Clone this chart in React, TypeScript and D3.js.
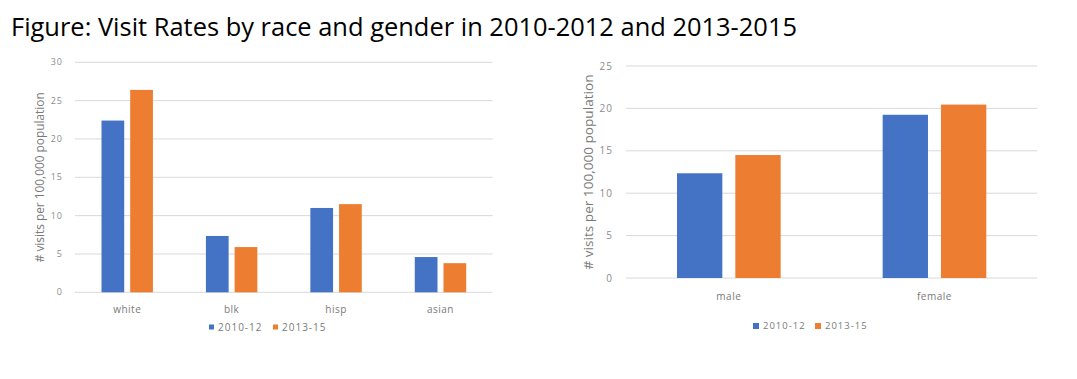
import React from "react";
import * as d3 from "d3";

const seriesNames = ["2010-12", "2013-15"];
const colors = ["#4472C4", "#ED7D31"];

const raceCategories = ["white", "blk", "hisp", "asian"];
const race2010 = [22.4, 7.35, 11.0, 4.6];
const race2013 = [26.4, 5.9, 11.5, 3.8];
const raceTicks = [0, 5, 10, 15, 20, 25, 30];

const genderCategories = ["male", "female"];
const gender2010 = [12.35, 19.25];
const gender2013 = [14.5, 20.45];
const genderTicks = [0, 5, 10, 15, 20, 25];

const title = "Figure: Visit Rates by race and gender in 2010-2012 and 2013-2015";
const yTitle = "# visits per 100,000 population";

type PanelProps = {
  categories: string[];
  series: number[][];
  ticks: number[];
  x0: number; x1: number; y0: number; y1: number;
  groupPad: number; barGap: number;
  tickRight: number; tickFont: number;
  yTitleX: number; yTitleFont: number; yTitleLen: number;
  catY: number; catFont: number;
  legendY: number; legendX: number; legendFont: number; legendSq: number; legendSpacing: number;
};

function Panel(p: PanelProps) {
  const yMax = p.ticks[p.ticks.length - 1];
  const y = d3.scaleLinear().domain([0, yMax]).range([p.y1, p.y0]);
  const xb = d3.scaleBand().domain(p.categories).range([p.x0, p.x1]).paddingInner(0).paddingOuter(0);
  const bw = xb.bandwidth();
  const groupW = bw - 2 * p.groupPad;
  const barW = (groupW - p.barGap) / 2;
  const gray = "#8c8c8c";
  return (
    <g>
      {p.ticks.map((t) => (
        <g key={t}>
          <line x1={p.x0} x2={p.x1} y1={y(t)} y2={y(t)} stroke="#d9d9d9" strokeWidth={1} />
          <text x={p.tickRight} y={y(t)} dy="0.35em" textAnchor="end" fontSize={p.tickFont} fill={gray} letterSpacing={1}>{t}</text>
        </g>
      ))}
      {p.categories.map((c, i) => (
        <g key={c}>
          {p.series.map((s, k) => (
            <rect key={k}
              x={(xb(c) as number) + p.groupPad + k * (barW + p.barGap)}
              y={y(s[i])} width={barW} height={y(0) - y(s[i])} fill={colors[k]} />
          ))}
          <text x={(xb(c) as number) + bw / 2} y={p.catY} dy="0.35em" textAnchor="middle" fontSize={p.catFont} fill="#7a7a7a" letterSpacing={0.5}>{c}</text>
        </g>
      ))}
      <text transform={`translate(${p.yTitleX},${(p.y0 + p.y1) / 2}) rotate(-90)`} textAnchor="middle" dy="0.35em" fontSize={p.yTitleFont} fill="#7a7a7a" textLength={p.yTitleLen} lengthAdjust="spacingAndGlyphs">{yTitle}</text>
      {seriesNames.map((n, k) => {
        const lx = p.legendX + k * p.legendSpacing;
        return (
          <g key={n}>
            <rect x={lx} y={p.legendY - p.legendSq / 2} width={p.legendSq} height={p.legendSq} fill={colors[k]} />
            <text x={lx + p.legendSq + 4} y={p.legendY} dy="0.35em" fontSize={p.legendFont} fill="#7a7a7a" letterSpacing={1}>{n}</text>
          </g>
        );
      })}
    </g>
  );
}

export default function App() {
  return (
    <svg width={1077} height={379} style={{ position: "absolute", left: 0, top: 0, background: "#fff" }} fontFamily="'Open Sans', 'DejaVu Sans', sans-serif">
      <rect width={1077} height={379} fill="#fff" />
      <text x={11} y={36} fontSize={25} fill="#000" fontFamily="'Open Sans', sans-serif" textLength={786} lengthAdjust="spacingAndGlyphs">{title}</text>
      <Panel categories={raceCategories} series={[race2010, race2013]} ticks={raceTicks}
        x0={75} x1={492.7} y0={62.3} y1={292.3} groupPad={26.5} barGap={6}
        tickRight={63} tickFont={9} yTitleX={40} yTitleFont={12} yTitleLen={170}
        catY={309} catFont={10} legendY={327} legendX={209} legendFont={10} legendSq={5} legendSpacing={64} />
      <Panel categories={genderCategories} series={[gender2010, gender2013]} ticks={genderTicks}
        x0={626} x1={1037.3} y0={66} y1={278} groupPad={51} barGap={13}
        tickRight={613} tickFont={10} yTitleX={588} yTitleFont={13.5} yTitleLen={195}
        catY={296} catFont={10} legendY={326} legendX={753} legendFont={9.5} legendSq={6} legendSpacing={62} />
    </svg>
  );
}
